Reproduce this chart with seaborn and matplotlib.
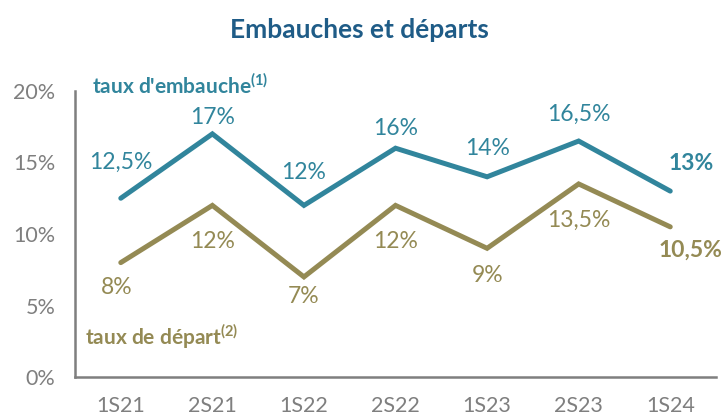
import numpy as np
import pandas as pd
import matplotlib
matplotlib.use("Agg")
import matplotlib.pyplot as plt
import seaborn as sns

# values (%)
periodes = ["1S21", "2S21", "1S22", "2S22", "1S23", "2S23", "1S24"]
taux_embauche = [12.5, 17, 12, 16, 14, 16.5, 13]
taux_depart = [8, 12, 7, 12, 9, 13.5, 10.5]
series = ["taux d'embauche", "taux de départ"]
y_ticks = [0, 5, 10, 15, 20]

TEAL = "#31859C"
OLIVE = "#948A54"
TITLE_BLUE = "#1F5C87"
GREY = "#7F7F7F"

sns.set_style("white")
plt.rcParams["font.family"] = ["Lato", "DejaVu Sans"]
plt.rcParams["mathtext.fontset"] = "custom"
plt.rcParams["mathtext.bf"] = "Lato:bold"
plt.rcParams["mathtext.rm"] = "Lato"

df = pd.DataFrame({
    "periode": periodes * 2,
    "taux": taux_embauche + taux_depart,
    "serie": [series[0]] * len(periodes) + [series[1]] * len(periodes),
})

fig = plt.figure(figsize=(7.24, 4.17), dpi=100)
ax = fig.add_axes([0.1036, 0.0959, 0.8854, 0.6859])

sns.lineplot(data=df, x="periode", y="taux", hue="serie", palette=[TEAL, OLIVE],
             linewidth=3.6, legend=False, ax=ax, sort=False)
for ln in ax.lines:
    ln.set_solid_capstyle("round")
    ln.set_solid_joinstyle("miter")
    ln.set_clip_on(False)

ax.set_xlim(-0.5, len(periodes) - 0.5)
ax.set_ylim(0, 20)
ax.set_yticks(y_ticks)
ax.set_yticklabels([f"{t}%" for t in y_ticks])
ax.set_xticks(range(len(periodes)))
ax.set_xticklabels(periodes)
ax.set_xticks(np.arange(-0.5, len(periodes)), minor=True)
ax.tick_params(axis="x", which="major", length=0, pad=14, labelsize=15.5, labelcolor=GREY)
ax.tick_params(axis="x", which="minor", length=8, width=1.8, color=GREY, direction="out")
ax.tick_params(axis="y", length=8, width=1.8, color=GREY, direction="out",
               labelsize=15.5, labelcolor=GREY, pad=6)
ax.set_xlabel("")
ax.set_ylabel("")
for side in ["top", "right"]:
    ax.spines[side].set_visible(False)
for side in ["left", "bottom"]:
    ax.spines[side].set_color(GREY)
    ax.spines[side].set_linewidth(1.8)

# data labels (offsets in pixels)
off_emb = [(0, 36), (0, 16), (0, 33), (0, 20), (0, 28), (0, 27), (21, 28)]
off_dep = [(-4, -25), (0, -36), (0, -20), (0, -36), (0, -27), (0, -36), (20, -23)]


def fmt(v):
    return f"{v:g}".replace(".", ",") + "%"


for vals, offs, col in [(taux_embauche, off_emb, TEAL), (taux_depart, off_dep, OLIVE)]:
    for i, v in enumerate(vals):
        last = i == len(vals) - 1
        ax.annotate(fmt(v), xy=(i, v), xytext=offs[i], textcoords="offset pixels",
                    ha="center", va="center", fontsize=16.5, color=col,
                    fontweight="bold" if last else "normal", annotation_clip=False)

ax.text(-0.31, 20.35, r"taux d'embauche$^{\mathbf{(1)}}$", color=TEAL, fontsize=15,
        fontweight="bold", ha="left", va="center")
ax.text(-0.39, 2.8, r"taux de départ$^{\mathbf{(2)}}$", color=OLIVE, fontsize=15,
        fontweight="bold", ha="left", va="center")

fig.text(0.496, 0.928, "Embauches et départs", ha="center", va="center",
         fontsize=19, fontweight="bold", color=TITLE_BLUE)

fig.savefig("out.png", dpi=100)
